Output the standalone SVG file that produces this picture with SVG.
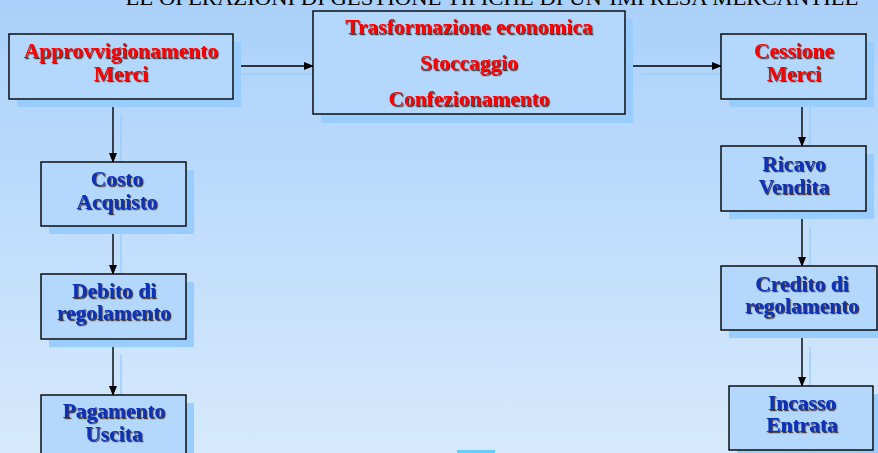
<svg xmlns="http://www.w3.org/2000/svg" width="878" height="453" viewBox="0 0 878 453">
<defs>
<linearGradient id="bg" x1="0" y1="0" x2="0" y2="1">
<stop offset="0" stop-color="#aad1fb"/>
<stop offset="1" stop-color="#d6e9fc"/>
</linearGradient>
<filter id="ts" x="-10%" y="-20%" width="120%" height="140%">
<feDropShadow dx="1.2" dy="1.2" stdDeviation="0.3" flood-color="#302020" flood-opacity="0.9"/>
</filter>
<marker id="ah" markerWidth="10" markerHeight="8" refX="9" refY="4" orient="auto" markerUnits="userSpaceOnUse">
<path d="M0,0 L10,4 L0,8 Z" fill="#000"/>
</marker>
<marker id="ahs" markerWidth="10" markerHeight="8" refX="9" refY="4" orient="auto" markerUnits="userSpaceOnUse">
<path d="M0,0 L10,4 L0,8 Z" fill="#99ccff"/>
</marker>
</defs>
<style>
.box{fill:#b4d8fd;stroke:#000;stroke-width:1.4}
.sh{fill:#99ccff}
.ln{stroke:#000;stroke-width:1.4;fill:none;marker-end:url(#ah)}
.lns{stroke:#99ccff;stroke-width:1.4;fill:none;marker-end:url(#ahs)}
.t{font-family:"Liberation Serif","Times New Roman",serif;font-weight:bold;font-size:21.5px;text-anchor:middle;filter:url(#ts)}
.r{fill:#ff0000}
.b{fill:#0a33b8}
</style>
<rect width="878" height="453" fill="url(#bg)"/>
<text x="492" y="5" font-family="Liberation Serif, Times New Roman, serif" font-size="21.5" text-anchor="middle" fill="#000" textLength="733" lengthAdjust="spacingAndGlyphs">LE OPERAZIONI DI GESTIONE TIPICHE DI UN’IMPRESA MERCANTILE</text>
<rect x="457" y="450" width="38" height="3" fill="#66ccff"/>

<g id="connectors">
<line class="lns" x1="242" y1="74" x2="321" y2="74"/>
<line class="lns" x1="641" y1="74" x2="729" y2="74"/>
<line class="lns" x1="121" y1="115" x2="121" y2="170"/>
<line class="lns" x1="121" y1="234" x2="121" y2="282"/>
<line class="lns" x1="121" y1="355" x2="121" y2="403"/>
<line class="lns" x1="810" y1="107" x2="810" y2="154"/>
<line class="lns" x1="810" y1="227" x2="810" y2="274"/>
<line class="lns" x1="810" y1="347" x2="810" y2="394"/>
<line class="ln" x1="233" y1="66" x2="313" y2="66"/>
<line class="ln" x1="633" y1="66" x2="721" y2="66"/>
<line class="ln" x1="113" y1="107" x2="113" y2="162"/>
<line class="ln" x1="113" y1="226" x2="113" y2="274"/>
<line class="ln" x1="113" y1="347" x2="113" y2="395"/>
<line class="ln" x1="802" y1="99" x2="802" y2="146"/>
<line class="ln" x1="802" y1="218" x2="802" y2="266"/>
<line class="ln" x1="802" y1="338" x2="802" y2="386"/>
</g>

<g id="approvvigionamento">
<rect class="sh" x="17" y="42" width="224" height="65"/>
<rect class="box" x="9" y="34" width="224" height="65"/>
<text class="t r" x="121" y="58">Approvvigionamento</text>
<text class="t r" x="121" y="81">Merci</text>
</g>

<g id="trasformazione">
<rect class="sh" x="321" y="19" width="312" height="104"/>
<rect class="box" x="313" y="11" width="312" height="103"/>
<text class="t r" x="469" y="34">Trasformazione economica</text>
<text class="t r" x="469" y="70">Stoccaggio</text>
<text class="t r" x="469" y="106">Confezionamento</text>
</g>

<g id="cessione">
<rect class="sh" x="729" y="42" width="145" height="65"/>
<rect class="box" x="721" y="34" width="145" height="65"/>
<text class="t r" x="794" y="58">Cessione</text>
<text class="t r" x="794" y="81">Merci</text>
</g>

<g id="costo">
<rect class="sh" x="49" y="170" width="145" height="64"/>
<rect class="box" x="41" y="162" width="145" height="64"/>
<text class="t b" x="117" y="186">Costo</text>
<text class="t b" x="117" y="209">Acquisto</text>
</g>

<g id="debito">
<rect class="sh" x="49" y="282" width="145" height="65"/>
<rect class="box" x="41" y="274" width="145" height="65"/>
<text class="t b" x="114" y="298">Debito di</text>
<text class="t b" x="114" y="320">regolamento</text>
</g>

<g id="pagamento">
<rect class="sh" x="49" y="403" width="145" height="65"/>
<rect class="box" x="41" y="395" width="145" height="65"/>
<text class="t b" x="114" y="418">Pagamento</text>
<text class="t b" x="114" y="441">Uscita</text>
</g>

<g id="ricavo">
<rect class="sh" x="729" y="154" width="145" height="65"/>
<rect class="box" x="721" y="146" width="145" height="65"/>
<text class="t b" x="794" y="171">Ricavo</text>
<text class="t b" x="794" y="194">Vendita</text>
</g>

<g id="credito">
<rect class="sh" x="729" y="274" width="156" height="64"/>
<rect class="box" x="721" y="266" width="156" height="64"/>
<text class="t b" x="802" y="291">Credito di</text>
<text class="t b" x="802" y="313">regolamento</text>
</g>

<g id="incasso">
<rect class="sh" x="737" y="394" width="144" height="64"/>
<rect class="box" x="729" y="386" width="144" height="64"/>
<text class="t b" x="802" y="410">Incasso</text>
<text class="t b" x="802" y="432">Entrata</text>
</g>
</svg>
